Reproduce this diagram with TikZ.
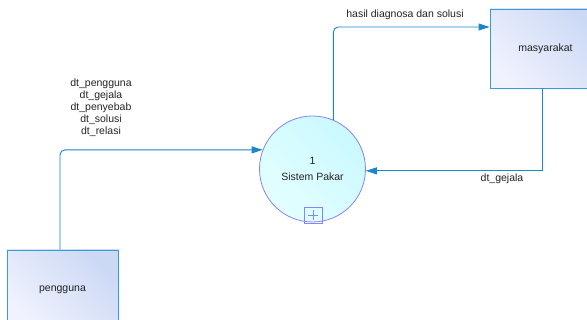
\documentclass[tikz,border=0pt]{standalone}
\usepackage{fontspec}
\setmainfont{Liberation Sans}
\usetikzlibrary{arrows.meta,calc}
\definecolor{flowc}{HTML}{1A86CC}
\definecolor{boxb}{HTML}{3A9AD9}
\definecolor{boxa}{HTML}{CCD9F5}
\definecolor{boxz}{HTML}{F0F2FE}
\definecolor{procb}{HTML}{8484FF}
\definecolor{proca}{HTML}{CAF9FF}
\definecolor{procz}{HTML}{E4FFFF}
\definecolor{txt}{HTML}{222222}
\tikzset{
  entity/.style={draw=boxb, line width=0.9pt, minimum width=111pt, minimum height=79pt,
    top color=boxa, bottom color=boxz, shading angle=-45, text=txt,
    font=\fontsize{10.5}{12}\selectfont},
  process/.style={circle, draw=procb, line width=0.8pt, minimum size=106pt, inner sep=0pt,
    top color=proca, bottom color=procz, shading angle=-45, text=txt, align=center,
    font=\fontsize{10.5}{16.5}\selectfont},
  flow/.style={draw=flowc, line width=0.9pt, rounded corners=5pt, -{Triangle[length=11pt,width=7pt]}},
  lbl/.style={text=txt, font=\fontsize{10.5}{12}\selectfont, align=center, inner sep=0pt},
}
\begin{document}
\begin{tikzpicture}[x=1pt,y=1pt]
\useasboundingbox (0,0) rectangle (587,320);
\clip (0,0) rectangle (587,320);
\node[process] (c) at (312.5,151) {1\\Sistem Pakar};
\node[draw=procb, line width=0.7pt, minimum width=18pt, minimum height=16pt, inner sep=0pt] (plus) at (313,105) {};
\draw[procb, line width=0.6pt] ($(plus.center)+(-5,0)$) -- ($(plus.center)+(5,0)$);
\draw[procb, line width=0.6pt] ($(plus.center)+(0,-5)$) -- ($(plus.center)+(0,5)$);
\node[entity] (m) at (545.5,271.5) {masyarakat};
\node[entity] (p) at (62.5,30.5) {pengguna};
\coordinate (t) at (333,293);
\coordinate (l) at (60,170);
\coordinate (r) at (542,149);
\draw[flow] (c.67) -- (c.67 |- t) -- (m.west |- t);
\draw[flow] (p.north -| l) |- (c.159);
\draw[flow, rounded corners=0pt] (m.south -| r) |- (c.-2);
\node[lbl] (l1) at (405,305) {hasil diagnosa dan solusi};
\node[lbl] (l2) at (502,141) {dt\_gejala};
\node[lbl] (l3) at (101,212) {dt\_pengguna\\dt\_gejala\\dt\_penyebab\\dt\_solusi\\dt\_relasi};
\end{tikzpicture}
\end{document}
